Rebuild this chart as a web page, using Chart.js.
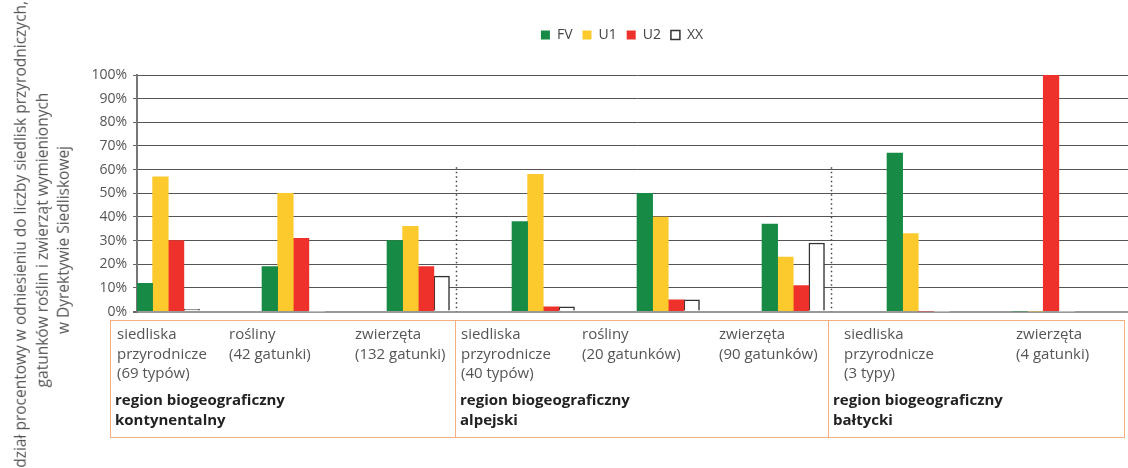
<!DOCTYPE html>
<html lang="pl">
<head>
<meta charset="utf-8">
<script src="https://cdn.jsdelivr.net/npm/chart.js@4.4.0/dist/chart.umd.min.js"></script>
<style>
  html, body { margin: 0; padding: 0; background: #fff; }
  body { position: relative; width: 1128px; height: 468px; overflow: hidden; font-family: "Open Sans", sans-serif; }
  #wrap { position: absolute; left: 0; top: 0; width: 1140px; height: 326px; }
  #ytitle {
    position: absolute; left: 42px; top: 240px; width: 540px;
    transform: translate(-50%, -50%) rotate(-90deg);
    text-align: center; font-size: 15.5px; line-height: 21.5px; color: #555; white-space: nowrap;
  }
  #regions { position: absolute; left: 110px; top: 320px; display: flex; }
  .region { position: relative; height: 118px; border: 1.5px solid #f6ae80; box-sizing: border-box; }
  .region + .region { border-left: none; }
  .cat { position: absolute; top: 3px; font-size: 15px; line-height: 19.5px; color: #555; white-space: nowrap; }
  .rname { position: absolute; top: 68px; font-size: 15px; line-height: 20px; font-weight: bold; color: #222; white-space: nowrap; }
</style>
</head>
<body>
<div id="wrap"><canvas id="chart"></canvas></div>
<div id="ytitle"></div>
<div id="regions"></div>
<script>
// --- dane ---
const series = ['FV', 'U1', 'U2', 'XX'];
const categories = [
  ['siedliska', 'przyrodnicze', '(69 typów)'],
  ['rośliny', '(42 gatunki)'],
  ['zwierzęta', '(132 gatunki)'],
  ['siedliska', 'przyrodnicze', '(40 typów)'],
  ['rośliny', '(20 gatunków)'],
  ['zwierzęta', '(90 gatunków)'],
  ['siedliska', 'przyrodnicze', '(3 typy)'],
  ['zwierzęta', '(4 gatunki)']
];
const regions = [
  ['region biogeograficzny', 'kontynentalny'],
  ['region biogeograficzny', 'alpejski'],
  ['region biogeograficzny', 'bałtycki']
];
const regionSizes = [3, 3, 2]; // liczba kategorii w regionie
const valFV = [12, 19, 30, 38, 50, 37, 67, 0];
const valU1 = [57, 50, 36, 58, 40, 23, 33, 0];
const valU2 = [30, 31, 19, 2, 5, 11, 0, 100];
const valXX = [1, 0, 15, 2, 5, 29, 0, 0];
const yTicks = [0, 10, 20, 30, 40, 50, 60, 70, 80, 90, 100];
const yTitle = ['Udział procentowy w odniesieniu do liczby siedlisk przyrodniczych,',
  'gatunków roślin i zwierząt wymienionych', 'w Dyrektywie Siedliskowej'];

// --- wygląd ---
const colors = ['#178b45', '#fdca2e', '#ee322b', '#ffffff'];
const regionWidths = [346, 373, 296];
const catOffsets = [6, 118, 244, 5, 126, 263, 15, 187];
const regionLabelLeft = [4, 4, 4];
const legendShift = -15;

Chart.defaults.font.family = '"Open Sans", sans-serif';

// separatory regionów (kropkowane linie pionowe)
const separators = {
  id: 'separators',
  afterLayout(chart) {
    // legenda lekko w lewo od środka obszaru wykresu
    chart.legend.left += legendShift;
    chart.legend.right += legendShift;
  },
  afterDatasetsDraw(chart) {
    const meta = chart.getDatasetMeta(3);
    const y = chart.scales.y;
    const c = chart.ctx;
    let idx = -1;
    c.save();
    c.strokeStyle = '#444';
    c.lineWidth = 1.5;
    c.setLineDash([1.5, 3]);
    regionSizes.slice(0, -1).forEach(n => {
      idx += n;
      const bar = meta.data[idx];
      const x = Math.round(bar.x + bar.width / 2 + 6) + 0.5;
      c.beginPath();
      c.moveTo(x, y.getPixelForValue(61));
      c.lineTo(x, y.getPixelForValue(0));
      c.stroke();
    });
    c.restore();
  }
};

const values = [valFV, valU1, valU2, valXX];
const datasets = series.map((s, i) => ({
  label: s,
  data: values[i],
  backgroundColor: colors[i],
  borderColor: i === 3 ? '#333' : colors[i],
  borderWidth: c => (i === 3 && c.raw > 0) ? 1.5 : 0
}));
// puste serie, żeby grupa słupków zajmowała lewą połowę kategorii
for (let i = 0; i < 4; i++) datasets.push({ label: '', data: [] });

new Chart(document.getElementById('chart'), {
  type: 'bar',
  data: { labels: categories.map(c => c.join(' ')), datasets },
  options: {
    responsive: true,
    maintainAspectRatio: false,
    animation: false,
    layout: { padding: { top: 18, right: 3, bottom: 9, left: 0 } },
    datasets: { bar: { categoryPercentage: 1, barPercentage: 1 } },
    scales: {
      x: { display: false },
      y: {
        min: 0, max: 100,
        afterFit: s => { s.width = 137; },
        afterBuildTicks: s => { s.ticks = yTicks.map(v => ({ value: v })); },
        ticks: { color: '#555', font: { size: 14 }, padding: 6, callback: v => v + '%' },
        border: { display: true, color: '#777', width: 2 },
        grid: {
          color: c => c.tick && c.tick.value === 0 ? '#999' : '#555',
          lineWidth: c => c.tick && c.tick.value === 0 ? 2 : 1,
          borderDash: [2, 1],
          tickLength: 4,
          tickColor: '#666',
          tickBorderDash: []
        }
      }
    },
    plugins: {
      legend: {
        position: 'top',
        fullSize: false,
        weight: 3000,
        labels: {
          filter: item => item.text !== '',
          color: '#444',
          font: { size: 14 },
          boxWidth: 9,
          boxHeight: 9,
          padding: 10
        }
      },
      // odstęp między legendą a wykresem
      subtitle: {
        display: true,
        text: '',
        fullSize: false,
        weight: 100,
        font: { size: 10, lineHeight: 1 },
        padding: { top: 0, bottom: 13 }
      },
      tooltip: { enabled: false }
    }
  },
  plugins: [separators]
});

// tytuł osi Y
document.getElementById('ytitle').innerHTML = yTitle.join('<br>');

// ramka z opisami kategorii i regionów
const box = document.getElementById('regions');
let k = 0;
regions.forEach((r, ri) => {
  const d = document.createElement('div');
  d.className = 'region';
  d.style.width = regionWidths[ri] + 'px';
  for (let j = 0; j < regionSizes[ri]; j++, k++) {
    const c = document.createElement('div');
    c.className = 'cat';
    c.style.left = catOffsets[k] + 'px';
    c.innerHTML = categories[k].join('<br>');
    d.appendChild(c);
  }
  const n = document.createElement('div');
  n.className = 'rname';
  n.style.left = regionLabelLeft[ri] + 'px';
  n.innerHTML = r.join('<br>');
  d.appendChild(n);
  box.appendChild(d);
});
</script>
</body>
</html>
